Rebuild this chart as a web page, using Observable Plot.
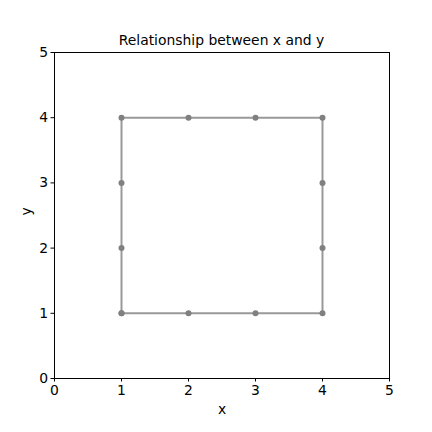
<!DOCTYPE html>
<html>
<head>
<meta charset="utf-8">
<script src="https://cdn.jsdelivr.net/npm/d3@7"></script>
<script src="https://cdn.jsdelivr.net/npm/@observablehq/plot@0.6"></script>
<style>
  body { margin: 0; background: #fff; }
  #wrap { position: relative; width: 432px; height: 432px; font-family: "DejaVu Sans", sans-serif; }
  #title { position: absolute; top: 32px; left: 54px; width: 335px; text-align: center; font-size: 13.9px; color: #000; }
</style>
</head>
<body>
<div id="wrap">
  <div id="title">Relationship between x and y</div>
</div>
<script>
const xs = [1, 2, 3, 4, 4, 4, 4, 3, 2, 1, 1, 1, 1];
const ys = [1, 1, 1, 1, 2, 3, 4, 4, 4, 4, 3, 2, 1];
const ticks = [0, 1, 2, 3, 4, 5];
const data = xs.map((x, i) => ({x, y: ys[i]}));

const chart = Plot.plot({
  width: 432,
  height: 432,
  marginLeft: 54,
  marginRight: 43,
  marginTop: 52,
  marginBottom: 54,
  style: {fontFamily: "DejaVu Sans, sans-serif", fontSize: "13.9px", color: "#000", background: "#fff"},
  x: {domain: [0, 5], label: null},
  y: {domain: [0, 5], label: null},
  marks: [
    Plot.frame({stroke: "#000", strokeWidth: 1}),
    Plot.axisX({ticks: ticks, tickFormat: "d", tickSize: 3.5, tickPadding: 3, label: null, fontSize: 13.9}),
    Plot.axisY({ticks: ticks, tickFormat: "d", tickSize: 3.5, tickPadding: 3, label: null, fontSize: 13.9}),
    Plot.text(["x"], {frameAnchor: "bottom", dy: 35, fontSize: 13.9}),
    Plot.text(["y"], {frameAnchor: "left", dx: -28, rotate: -90, fontSize: 13.9}),
    Plot.line(data, {x: "x", y: "y", stroke: "#808080", strokeOpacity: 0.8, strokeWidth: 2}),
    Plot.dot(data, {x: "x", y: "y", r: 3, fill: "#808080", stroke: "none"})
  ]
});
document.getElementById("wrap").appendChild(chart);
</script>
</body>
</html>
